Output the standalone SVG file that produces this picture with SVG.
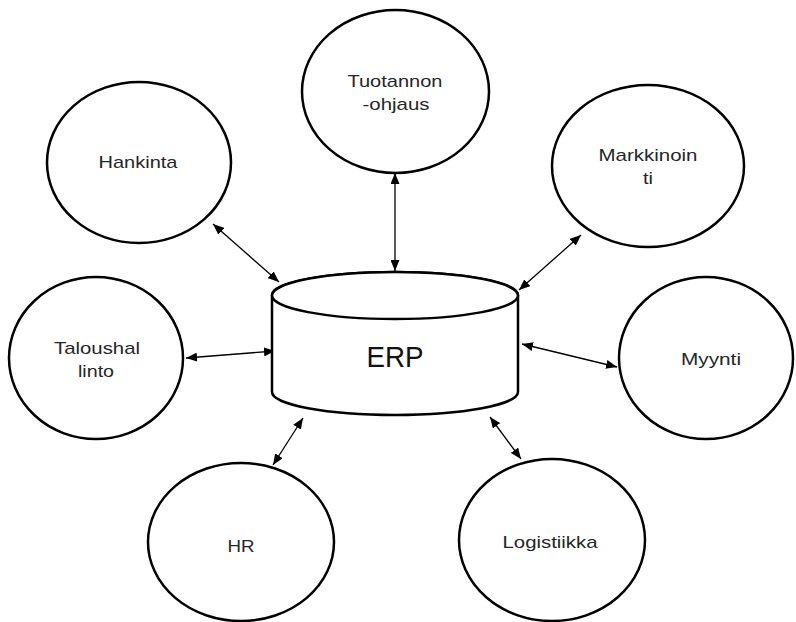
<svg xmlns="http://www.w3.org/2000/svg" width="796" height="622" viewBox="0 0 796 622">
<style>
.node{fill:#fff;stroke:#000;stroke-width:2.5}
.lbl{font-family:"Liberation Sans",Arial,sans-serif;font-size:17px;fill:#262626;text-anchor:middle}
.erp{font-family:"Liberation Sans",Arial,sans-serif;font-size:29px;fill:#111;text-anchor:middle}
.conn{stroke:#000;stroke-width:1.3;fill:none;marker-start:url(#ah);marker-end:url(#ah)}
</style>
<defs>
<marker id="ah" markerUnits="userSpaceOnUse" markerWidth="11" markerHeight="9" refX="11" refY="4.5" orient="auto-start-reverse" viewBox="0 0 11 9">
<path d="M0,0 L11,4.5 L0,9 Z" fill="#000"/>
</marker>
</defs>
<rect width="796" height="622" fill="#fff"/>
<g id="connectors">
<line class="conn" x1="213" y1="224" x2="279" y2="282"/>
<line class="conn" x1="395" y1="173" x2="395" y2="271"/>
<line class="conn" x1="581" y1="235" x2="519" y2="290"/>
<line class="conn" x1="186" y1="358" x2="275" y2="351"/>
<line class="conn" x1="522" y1="344" x2="617" y2="367"/>
<line class="conn" x1="303" y1="418" x2="273" y2="465"/>
<line class="conn" x1="490" y1="417" x2="521" y2="459"/>
</g>
<g id="erp">
<path class="node" d="M272,295 L272,392 A123,23 0 0 0 518,392 L518,295 A123,23 0 0 0 272,295 Z"/>
<ellipse class="node" cx="395" cy="295.5" rx="123" ry="23.5"/>
<text class="erp" x="395" y="367" textLength="57" lengthAdjust="spacingAndGlyphs">ERP</text>
</g>
<g id="hankinta">
<ellipse class="node" cx="139" cy="162.5" rx="92" ry="80.5"/>
<text class="lbl" x="138" y="168" textLength="79" lengthAdjust="spacingAndGlyphs">Hankinta</text>
</g>
<g id="tuotannonohjaus">
<ellipse class="node" cx="395.5" cy="91.5" rx="93.5" ry="81.5"/>
<text class="lbl" x="395" y="87" textLength="95" lengthAdjust="spacingAndGlyphs">Tuotannon</text>
<text class="lbl" x="396" y="110" textLength="67" lengthAdjust="spacingAndGlyphs">-ohjaus</text>
</g>
<g id="markkinointi">
<ellipse class="node" cx="648" cy="166" rx="96" ry="81"/>
<text class="lbl" x="648" y="161" textLength="99" lengthAdjust="spacingAndGlyphs">Markkinoin</text>
<text class="lbl" x="648" y="184" textLength="10" lengthAdjust="spacingAndGlyphs">ti</text>
</g>
<g id="taloushallinto">
<ellipse class="node" cx="96" cy="358" rx="87" ry="81"/>
<text class="lbl" x="97" y="354" textLength="86" lengthAdjust="spacingAndGlyphs">Taloushal</text>
<text class="lbl" x="96" y="377" textLength="36" lengthAdjust="spacingAndGlyphs">linto</text>
</g>
<g id="myynti">
<ellipse class="node" cx="706" cy="358" rx="87" ry="81"/>
<text class="lbl" x="711" y="365" textLength="60" lengthAdjust="spacingAndGlyphs">Myynti</text>
</g>
<g id="hr">
<ellipse class="node" cx="241" cy="542" rx="93" ry="79"/>
<text class="lbl" x="241" y="552" textLength="27" lengthAdjust="spacingAndGlyphs">HR</text>
</g>
<g id="logistiikka">
<ellipse class="node" cx="552" cy="540" rx="93" ry="81"/>
<text class="lbl" x="550" y="548" textLength="95" lengthAdjust="spacingAndGlyphs">Logistiikka</text>
</g>
</svg>
